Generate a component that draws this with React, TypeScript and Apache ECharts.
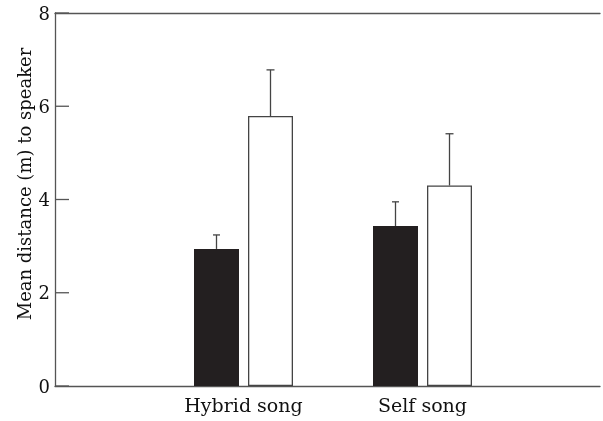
import React, { useEffect, useRef } from "react";
import * as echarts from "echarts";

const categories = ["Hybrid song", "Self song"];
const blackValues = [2.94, 3.43];
const blackUpper = [3.24, 3.95];
const whiteValues = [5.79, 4.3];
const whiteUpper = [6.78, 5.41];
const yTicks = [0, 2, 4, 6, 8];
const yTitle = "Mean distance (m) to speaker";

const FONT = "DejaVu Serif";
const BAR_W = 45;
const GAP = 9;
const AXIS_COLOR = "#555";

export default function App() {
  const ref = useRef<HTMLDivElement>(null);
  useEffect(() => {
    if (!ref.current) return;
    const chart = echarts.init(ref.current, undefined, { renderer: "svg" });
    const errSeries = (upper: number[], vals: number[], sign: number, cap: number) => ({
      type: "custom",
      xAxisIndex: 1,
      yAxisIndex: 1,
      z: 1,
      data: vals.map((v, i) => [i, v, upper[i]]),
      renderItem: (params: any, api: any) => {
        const lo = api.coord([api.value(0), api.value(1)]);
        const hi = api.coord([api.value(0), api.value(2)]);
        const x = lo[0] + (sign * (BAR_W + GAP)) / 2;
        return {
          type: "group",
          children: [
            { type: "line", shape: { x1: x, y1: lo[1], x2: x, y2: hi[1] }, style: { stroke: "#444", lineWidth: 1.3 } },
            { type: "line", shape: { x1: x - cap / 2, y1: hi[1], x2: x + cap / 2, y2: hi[1] }, style: { stroke: "#444", lineWidth: 1.3 } },
          ],
        };
      },
    });
    chart.setOption({
      animation: false,
      graphic: [
        {
          type: "text",
          x: 24,
          y: 184,
          rotation: Math.PI / 2,
          style: {
            text: yTitle,
            fill: "#111",
            font: `18px "${FONT}"`,
            align: "center",
            verticalAlign: "middle",
          },
        },
      ],
      grid: [
        { left: 55, right: 3, top: 13, bottom: 35 },
        { left: 154, width: 358, top: 13, bottom: 35 },
      ],
      xAxis: [
        {
          type: "value",
          gridIndex: 0,
          min: 0,
          max: 1,
          position: "bottom",
          axisLine: { show: true, lineStyle: { color: AXIS_COLOR, width: 1.3 } },
          axisTick: { show: false },
          axisLabel: { show: false },
          splitLine: { show: false },
        },
        {
          type: "category",
          gridIndex: 1,
          data: categories,
          axisLine: { show: false },
          axisTick: { show: false },
          axisLabel: { color: "#111", fontFamily: FONT, fontSize: 19, margin: 9 },
        },
        {
          type: "value",
          gridIndex: 0,
          min: 0,
          max: 1,
          position: "top",
          axisLine: { show: true, onZero: false, lineStyle: { color: AXIS_COLOR, width: 1.3 } },
          axisTick: { show: false },
          axisLabel: { show: false },
          splitLine: { show: false },
        },
      ],
      yAxis: [
        {
          type: "value",
          gridIndex: 0,
          min: 0,
          max: 8,
          interval: 2,
          axisLine: { show: true, onZero: false, lineStyle: { color: AXIS_COLOR, width: 1.3 } },
          axisTick: { show: false },
          axisLabel: {
            color: "#111",
            fontFamily: FONT,
            fontSize: 18,
            margin: 5,
            formatter: (v: number) => (yTicks.includes(v) ? String(v) : ""),
          },
          splitLine: { show: false },
        },
        {
          type: "value",
          gridIndex: 1,
          min: 0,
          max: 8,
          interval: 2,
          show: false,
        },
      ],
      series: [
        {
          type: "custom",
          xAxisIndex: 0,
          yAxisIndex: 0,
          z: 3,
          silent: true,
          data: yTicks.map((t) => [0, t]),
          renderItem: (params: any, api: any) => {
            const p = api.coord([0, api.value(1)]);
            return {
              type: "line",
              shape: { x1: p[0], y1: p[1], x2: p[0] + 14, y2: p[1] },
              style: { stroke: AXIS_COLOR, lineWidth: 1.3 },
            };
          },
        },
        {
          type: "bar",
          xAxisIndex: 1,
          yAxisIndex: 1,
          data: blackValues,
          barWidth: BAR_W,
          barGap: `${(GAP / BAR_W) * 100}%`,
          itemStyle: { color: "#231f20" },
          z: 2,
        },
        {
          type: "bar",
          xAxisIndex: 1,
          yAxisIndex: 1,
          data: whiteValues,
          barWidth: BAR_W,
          barGap: `${(GAP / BAR_W) * 100}%`,
          itemStyle: { color: "#ffffff", borderColor: "#444", borderWidth: 1.3 },
          z: 2,
        },
        errSeries(blackUpper, blackValues, -1, 7),
        errSeries(whiteUpper, whiteValues, 1, 8),
      ],
    });
    return () => chart.dispose();
  }, []);
  return (
    <div
      ref={ref}
      style={{ position: "fixed", left: 0, top: 0, width: 603, height: 421 }}
    />
  );
}
